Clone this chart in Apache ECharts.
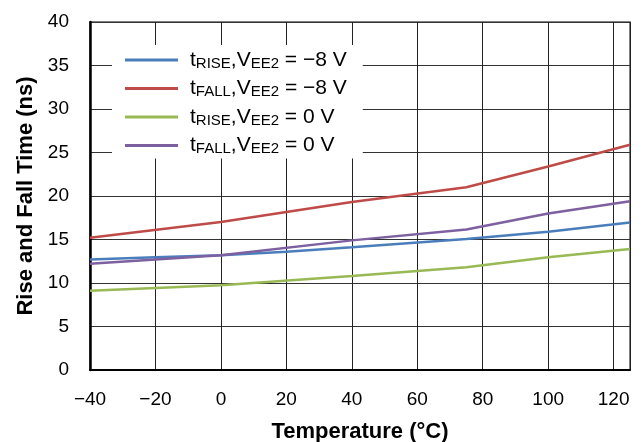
<!DOCTYPE html>
<html>
<head>
<meta charset="utf-8">
<script src="https://cdn.jsdelivr.net/npm/echarts@6/dist/echarts.min.js"></script>
<style>
  html, body { margin: 0; padding: 0; background: #fff; }
  #container { width: 643px; height: 442px; }
</style>
</head>
<body>
<div id="container"></div>
<script>
var dom = document.getElementById('container');
var myChart = echarts.init(dom, null, { renderer: 'canvas' });

// temperature (°C) and times (ns)
const riseNeg8 = [[-40, 12.7], [-20, 12.95], [0, 13.2], [20, 13.6], [40, 14.1], [75, 15.05], [100, 15.9], [125, 16.95]];
const fallNeg8 = [[-40, 15.2], [0, 17.0], [40, 19.3], [75, 21.0], [100, 23.4], [125, 25.9]];
const rise0 = [[-40, 9.1], [0, 9.75], [40, 10.8], [75, 11.8], [100, 12.95], [125, 13.9]];
const fall0 = [[-40, 12.2], [0, 13.2], [40, 14.9], [75, 16.15], [100, 18.0], [125, 19.4]];

const seriesNames = ['riseNeg8', 'fallNeg8', 'rise0', 'fall0'];
const legendTexts = {
  riseNeg8: '{m|t}{s|RISE}{m|,V}{s|EE2}{m| = \u22128 V}',
  fallNeg8: '{m|t}{s|FALL}{m|,V}{s|EE2}{m| = \u22128 V}',
  rise0: '{m|t}{s|RISE}{m|,V}{s|EE2}{m| = 0 V}',
  fall0: '{m|t}{s|FALL}{m|,V}{s|EE2}{m| = 0 V}'
};
const colors = ['#4a7ebb', '#be4b48', '#98b954', '#7d60a0'];
const dataSets = [riseNeg8, fallNeg8, rise0, fall0];

const font = 'Liberation Sans';
const minus = v => String(v).replace('-', '\u2212');

var option = {
  animation: false,
  textStyle: { fontFamily: font },
  grid: {
    left: 90, right: 13, top: 22, bottom: 72,
    outerBoundsMode: 'none',
    show: true,
    borderColor: '#555',
    borderWidth: 1.5
  },
  legend: {
    orient: 'vertical',
    left: 112,
    top: 45,
    padding: [2, 16, 2, 13],
    backgroundColor: '#fff',
    itemWidth: 53,
    itemHeight: 3,
    itemGap: 4.5,
    icon: 'rect',
    data: seriesNames,
    formatter: name => legendTexts[name],
    textStyle: {
      padding: [0, 0, 0, 7],
      rich: {
        m: { fontSize: 21, fontFamily: font, color: '#000', lineHeight: 22 },
        s: { fontSize: 15, fontFamily: font, color: '#000', lineHeight: 22, verticalAlign: 'bottom', padding: [9, 0, 0, 0] }
      }
    }
  },
  xAxis: {
    type: 'value',
    min: -40, max: 125, interval: 20,
    name: 'Temperature (\u00b0C)',
    nameLocation: 'middle',
    nameGap: 51,
    nameTextStyle: { fontSize: 22, fontWeight: 'bold', color: '#000', fontFamily: font },
    axisLine: { show: true, onZero: false, lineStyle: { color: '#000', width: 2 } },
    axisTick: { show: false },
    axisLabel: { fontSize: 19, color: '#000', margin: 20, formatter: minus, showMaxLabel: false },
    splitLine: { show: true, lineStyle: { color: '#222', width: 1 } }
  },
  yAxis: {
    type: 'value',
    min: 0, max: 40, interval: 5,
    name: 'Rise and Fall Time (ns)',
    nameLocation: 'middle',
    nameGap: 52,
    nameTextStyle: { fontSize: 22, fontWeight: 'bold', color: '#000', fontFamily: font },
    axisLine: { show: true, onZero: false, lineStyle: { color: '#000', width: 2.5 } },
    axisTick: { show: false },
    axisLabel: { fontSize: 19, color: '#000', margin: 21 },
    splitLine: { show: true, lineStyle: { color: '#333', width: 1 } }
  },
  series: seriesNames.map((n, i) => ({
    name: n,
    type: 'line',
    data: dataSets[i],
    showSymbol: false,
    symbol: 'none',
    color: colors[i],
    lineStyle: { width: 2.5, color: colors[i] },
    z: 3
  }))
};

myChart.setOption(option);
window.addEventListener('resize', myChart.resize);
</script>
</body>
</html>
